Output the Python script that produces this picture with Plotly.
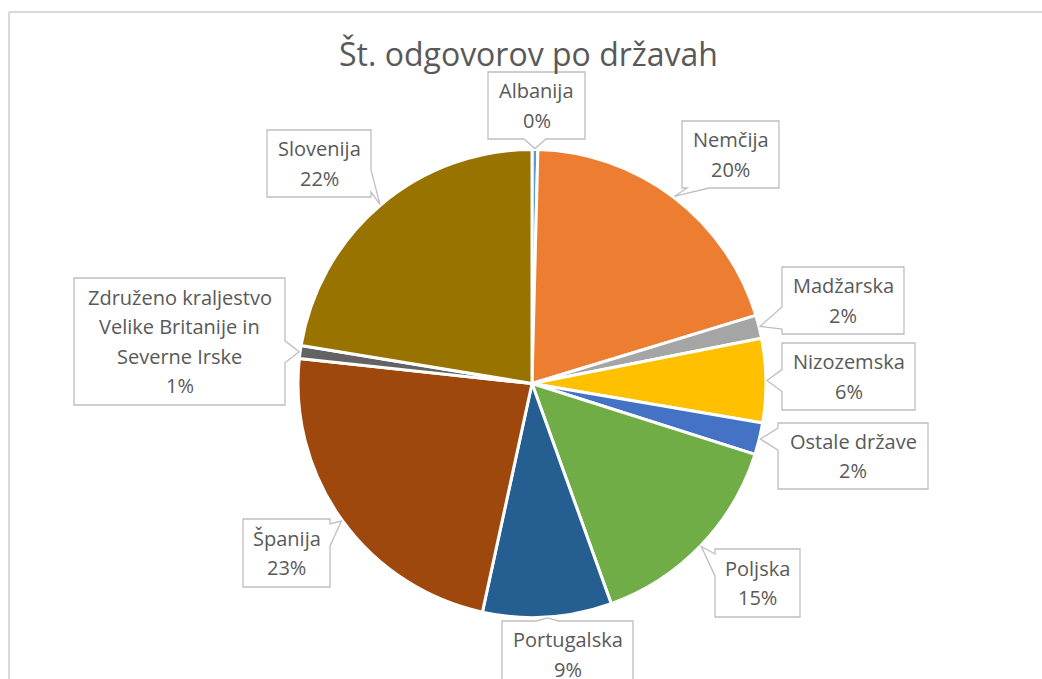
import math
import textwrap
import plotly.graph_objects as go

# ---------------- data ----------------
countries = ["Albanija", "Nemčija", "Madžarska", "Nizozemska", "Ostale države",
             "Poljska", "Portugalska", "Španija",
             "Združeno kraljestvo Velike Britanije in Severne Irske", "Slovenija"]
values = [0.4, 19.9, 1.6, 5.8, 2.2, 14.6, 8.9, 23.3, 0.9, 22.4]
colors = ["#5B9BD5", "#ED7D31", "#A5A5A5", "#FFC000", "#4472C4",
          "#70AD47", "#255E91", "#9E480E", "#636363", "#997300"]
title_text = "Št. odgovorov po državah"

# ---------------- layout / style ----------------
W, H = 1042, 679
CX, CY, R = 532, 383.5, 234
FONT = "Open Sans"
TXT = "#595959"
LINE_GAP = 29.5

# label box rectangles (pixel space): x0, y0, x1, y1
boxes = [
    (488, 72, 585, 139),
    (682, 121, 779, 188),
    (782, 267, 904, 334),
    (782, 343, 915, 410),
    (778, 423, 928, 489),
    (715, 549, 800, 617),
    (502, 621, 633, 688),
    (243, 519, 330, 587),
    (74, 278, 285, 405),
    (267, 130, 371, 197),
]


def px(x):
    return x / W


def py(y):
    return 1 - y / H


fig = go.Figure()
fig.add_trace(go.Pie(
    labels=countries, values=values, sort=False, direction="clockwise",
    rotation=0,
    marker=dict(colors=colors, line=dict(color="white", width=3)),
    textinfo="none", hoverinfo="label+percent", showlegend=False,
    domain=dict(x=[px(CX - R), px(CX + R)], y=[py(CY + R), py(CY - R)]),
))

shapes = []
# chart frame (left and top edges visible)
shapes.append(dict(type="line", xref="paper", yref="paper",
                   x0=px(9), x1=px(9), y0=py(12), y1=py(H + 20),
                   line=dict(color="#D9D9D9", width=2)))
shapes.append(dict(type="line", xref="paper", yref="paper",
                   x0=px(9), x1=px(W + 20), y0=py(12), y1=py(12),
                   line=dict(color="#D9D9D9", width=2)))


def callout_path(box, tip):
    x0, y0, x1, y1 = box
    tx, ty = tip
    d = {"left": x0 - tx, "right": tx - x1, "top": y0 - ty, "bottom": ty - y1}
    side = max(d, key=d.get)
    half = 11
    if side in ("top", "bottom"):
        c = min(max(tx, x0 + 16), x1 - 16)
        b1, b2 = c - half, c + half
    else:
        c = min(max(ty, y0 + 16), y1 - 16)
        b1, b2 = c - half, c + half
    pts = [(x0, y0)]
    if side == "top":
        pts += [(b1, y0), (tx, ty), (b2, y0)]
    pts.append((x1, y0))
    if side == "right":
        pts += [(x1, b1), (tx, ty), (x1, b2)]
    pts.append((x1, y1))
    if side == "bottom":
        pts += [(b2, y1), (tx, ty), (b1, y1)]
    pts.append((x0, y1))
    if side == "left":
        pts += [(x0, b2), (tx, ty), (x0, b1)]
    p = "M " + " L ".join(f"{px(a):.5f},{py(b):.5f}" for a, b in pts) + " Z"
    return p


annotations = []
total = sum(values)
cum = 0.0
for name, v, box in zip(countries, values, boxes):
    mid = 360.0 * (cum + v / 2) / total
    cum += v
    th = math.radians(mid)
    tip = (CX + (R + 1) * math.sin(th), CY - (R + 1) * math.cos(th))
    shapes.append(dict(type="path", xref="paper", yref="paper",
                       path=callout_path(box, tip), fillcolor="white",
                       line=dict(color="#BFBFBF", width=1.3)))
    lines = textwrap.wrap(name, 19) + [f"{round(v / total * 100):.0f}%"]
    bx = (box[0] + box[2]) / 2
    by = (box[1] + box[3]) / 2
    n = len(lines)
    for i, t in enumerate(lines):
        yy = by + (i - (n - 1) / 2) * LINE_GAP
        annotations.append(dict(x=px(bx), y=py(yy), xref="paper", yref="paper",
                                text=t, showarrow=False, xanchor="center",
                                yanchor="middle",
                                font=dict(family=FONT, size=20, color=TXT)))

annotations.append(dict(x=px(528), y=py(54), xref="paper", yref="paper",
                        text=title_text, showarrow=False, xanchor="center",
                        yanchor="middle",
                        font=dict(family=FONT, size=32, color=TXT)))

fig.update_layout(
    width=W, height=H, margin=dict(l=0, r=0, t=0, b=0),
    paper_bgcolor="white", plot_bgcolor="white",
    shapes=shapes, annotations=annotations,
)
fig.write_html(
    "out.html",
    config={"displayModeBar": False},
    post_script="document.body.style.margin='0';document.body.style.overflow='hidden';",
)
